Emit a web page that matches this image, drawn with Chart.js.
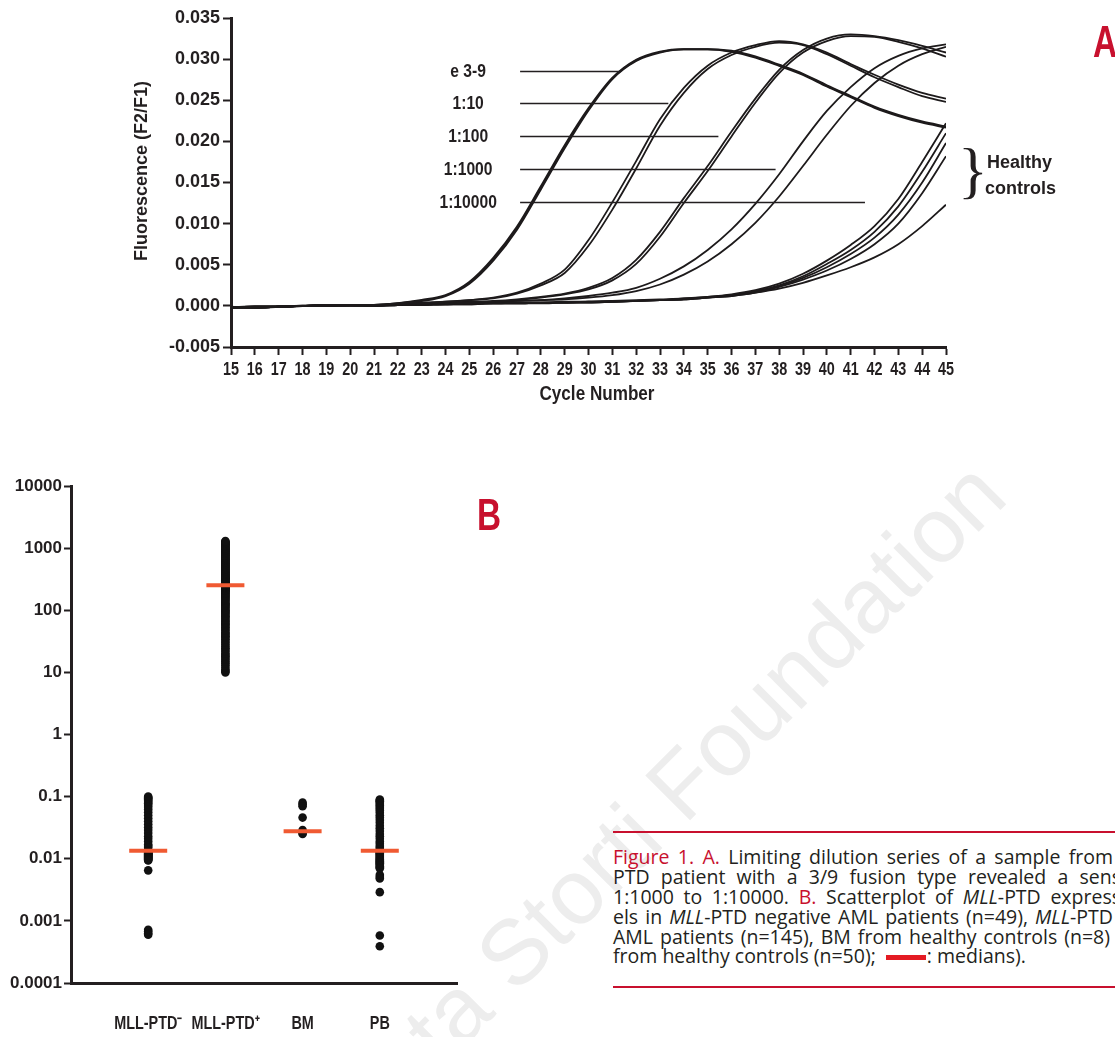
<!DOCTYPE html>
<html><head><meta charset="utf-8">
<script src="https://cdn.jsdelivr.net/npm/chart.js@4.4.0/dist/chart.umd.min.js"></script>
<style>
html,body{margin:0;padding:0;background:#fff;}
body{width:1115px;height:1037px;overflow:hidden;position:relative;font-family:"Liberation Sans",Arial,sans-serif;color:#231f20;}
#wm{position:absolute;left:232px;top:1168px;font-size:92px;line-height:92px;color:#ededed;white-space:nowrap;transform-origin:0 0;transform:rotate(-45deg);font-family:"Liberation Sans",Arial,sans-serif;}
canvas{position:absolute;}
#cA{left:0;top:0;}
#cB{left:0;top:440px;}
.panel{position:absolute;color:#c8102e;font-family:"Liberation Sans",Arial,sans-serif;font-weight:bold;font-size:45px;line-height:45px;transform-origin:0 0;transform:scaleX(0.74);}
.hc{position:absolute;font-weight:bold;font-size:18px;line-height:18px;white-space:nowrap;}
#brace{position:absolute;left:958px;top:139px;font-family:"Liberation Serif",serif;font-size:62px;line-height:62px;}
.rule{position:absolute;left:613px;width:502px;height:2px;background:#c8102e;}
.cap{position:absolute;left:613px;font-family:"Open Sans","Liberation Sans",sans-serif;font-weight:500;font-size:19.5px;line-height:20px;height:21px;white-space:nowrap;text-align:justify;text-align-last:justify;color:#231f20;}
.cap .r{color:#c8102e;}
.cap6{text-align:left;text-align-last:left;}
.bar{display:inline-block;width:40px;height:5px;background:#e41b23;vertical-align:middle;margin:0 1px 0 5px;}
</style></head><body>
<div id="wm">Ferrata Storti Foundation</div>
<canvas id="cA" width="1115" height="410"></canvas>
<canvas id="cB" width="480" height="597"></canvas>
<div class="panel" style="left:1093px;top:19px;">A</div>
<div class="panel" style="left:477px;top:492px;">B</div>
<div id="brace">}</div>
<div class="hc" style="left:987px;top:153px;">Healthy</div>
<div class="hc" style="left:985px;top:179px;">controls</div>
<div class="rule" style="top:831px;"></div>
<div class="rule" style="top:986px;"></div>
<div class="cap" style="top:847px;width:500px;"><span class="r">Figure 1. A.</span> Limiting dilution series of a sample from</div>
<div class="cap" style="top:867px;width:508px;">PTD patient with a 3/9 fusion type revealed a sens</div>
<div class="cap" style="top:887px;width:508px;">1:1000 to 1:10000. <span class="r">B.</span> Scatterplot of <i>MLL</i>-PTD express</div>
<div class="cap" style="top:907px;width:500px;">els in <i>MLL</i>-PTD negative AML patients (n=49), <i>MLL</i>-PTD</div>
<div class="cap" style="top:927px;width:497px;">AML patients (n=145), BM from healthy controls (n=8)</div>
<div class="cap cap6" style="top:946px;width:502px;">from healthy controls (n=50); <span class="bar"></span>: medians).</div>
<script>
// ---------- Panel A data ----------
const cycles = [15,16,17,18,19,20,21,22,23,24,25,26,27,28,29,30,31,32,33,34,35,36,37,38,39,40,41,42,43,44,45];
const yTicksA = [-0.005,0,0.005,0.01,0.015,0.02,0.025,0.03,0.035];
const yTickLabelsA = ["-0.005","0.000","0.005","0.010","0.015","0.020","0.025","0.030","0.035"];
const e39A = [-0.0002,-0.0002,-0.0001,0.0000,0.0001,0.0001,0.0001,0.0003,0.0006,0.0012,0.0027,0.0055,0.0093,0.0142,0.0192,0.0238,0.0276,0.0298,0.0308,0.0312,0.0312,0.0310,0.0303,0.0293,0.0282,0.0268,0.0255,0.0242,0.0232,0.0224,0.0218];
const e39B = [-0.0002,-0.0001,-0.0001,0.0000,0.0000,0.0001,0.0001,0.0003,0.0007,0.0013,0.0029,0.0058,0.0096,0.0145,0.0195,0.0240,0.0277,0.0299,0.0309,0.0312,0.0312,0.0309,0.0302,0.0292,0.0281,0.0267,0.0254,0.0241,0.0231,0.0223,0.0217];
const d10A = [-0.0002,-0.0002,-0.0001,0.0000,0.0001,0.0001,0.0001,0.0002,0.0004,0.0005,0.0007,0.0010,0.0016,0.0027,0.0044,0.0080,0.0126,0.0176,0.0227,0.0265,0.0292,0.0308,0.0317,0.0322,0.0318,0.0308,0.0294,0.0281,0.0269,0.0259,0.0252];
const d10B = [-0.0002,-0.0001,-0.0001,0.0000,0.0000,0.0001,0.0001,0.0002,0.0003,0.0005,0.0007,0.0009,0.0015,0.0025,0.0040,0.0073,0.0117,0.0167,0.0219,0.0259,0.0288,0.0305,0.0315,0.0320,0.0317,0.0306,0.0292,0.0278,0.0266,0.0255,0.0248];
const d100A = [-0.0002,-0.0002,-0.0001,0.0000,0.0001,0.0001,0.0001,0.0002,0.0003,0.0004,0.0005,0.0006,0.0008,0.0011,0.0015,0.0022,0.0034,0.0056,0.0090,0.0131,0.0170,0.0212,0.0252,0.0287,0.0311,0.0325,0.0330,0.0328,0.0323,0.0316,0.0308];
const d100B = [-0.0002,-0.0001,-0.0001,0.0000,0.0000,0.0001,0.0001,0.0002,0.0003,0.0004,0.0004,0.0005,0.0007,0.0010,0.0014,0.0020,0.0031,0.0051,0.0084,0.0125,0.0164,0.0206,0.0247,0.0283,0.0308,0.0322,0.0328,0.0327,0.0321,0.0313,0.0303];
const d1000A = [-0.0002,-0.0002,-0.0001,0.0000,0.0001,0.0001,0.0001,0.0002,0.0003,0.0004,0.0004,0.0005,0.0006,0.0007,0.0009,0.0012,0.0016,0.0022,0.0033,0.0048,0.0068,0.0093,0.0124,0.0160,0.0200,0.0237,0.0266,0.0289,0.0304,0.0313,0.0318];
const d1000B = [-0.0002,-0.0001,-0.0001,0.0000,0.0000,0.0001,0.0001,0.0002,0.0003,0.0003,0.0004,0.0005,0.0006,0.0007,0.0008,0.0010,0.0013,0.0018,0.0026,0.0038,0.0054,0.0075,0.0101,0.0133,0.0170,0.0208,0.0243,0.0271,0.0292,0.0306,0.0315];
const hc1 = [-0.0002,-0.0002,-0.0001,0.0000,0.0001,0.0001,0.0000,0.0002,0.0002,0.0003,0.0003,0.0004,0.0004,0.0004,0.0005,0.0005,0.0006,0.0007,0.0008,0.0009,0.0011,0.0014,0.0019,0.0027,0.0039,0.0055,0.0074,0.0097,0.0130,0.0175,0.0222];
const hc2 = [-0.0002,-0.0001,-0.0001,0.0000,0.0000,0.0001,0.0000,0.0001,0.0002,0.0002,0.0003,0.0003,0.0004,0.0004,0.0004,0.0005,0.0006,0.0006,0.0007,0.0009,0.0011,0.0013,0.0018,0.0025,0.0036,0.0051,0.0068,0.0090,0.0121,0.0163,0.0210];
const hc3 = [-0.0002,-0.0002,-0.0001,0.0000,0.0001,0.0000,0.0000,0.0001,0.0002,0.0002,0.0003,0.0003,0.0003,0.0004,0.0004,0.0005,0.0005,0.0006,0.0007,0.0008,0.0010,0.0013,0.0017,0.0024,0.0034,0.0047,0.0063,0.0083,0.0111,0.0150,0.0198];
const hc4 = [-0.0001,-0.0002,-0.0001,0.0000,0.0000,0.0001,0.0000,0.0001,0.0001,0.0002,0.0002,0.0003,0.0003,0.0004,0.0004,0.0004,0.0005,0.0006,0.0007,0.0008,0.0010,0.0012,0.0016,0.0023,0.0032,0.0043,0.0057,0.0075,0.0100,0.0137,0.0182];
const hc5 = [-0.0002,-0.0001,-0.0001,0.0000,0.0000,0.0000,0.0000,0.0001,0.0001,0.0002,0.0002,0.0003,0.0003,0.0003,0.0004,0.0004,0.0005,0.0006,0.0007,0.0008,0.0010,0.0012,0.0016,0.0021,0.0028,0.0037,0.0047,0.0059,0.0075,0.0097,0.0123];
const leaderLabels = ["e 3-9","1:10","1:100","1:1000","1:10000"];
const leaderLevels = [0.0285,0.0247,0.0207,0.0166,0.0126];
const leaderEnds = [31.3,33.35,35.45,37.85,41.6];

// ---------- Panel B data ----------
const categoriesB = ["MLL-PTD\u207B","MLL-PTD\u207A","BM","PB"];
const ptdNeg = [0.1,0.097,0.094,0.09,0.086,0.082,0.078,0.073,0.068,0.062,0.056,0.05,0.045,0.04,0.036,0.032,0.029,0.026,0.023,0.021,0.019,0.017,0.016,0.015,0.0135,0.0131,0.0128,0.0126,0.0124,0.0122,0.012,0.0118,0.0116,0.0114,0.0112,0.011,0.0108,0.0106,0.0104,0.0102,0.01,0.0098,0.0096,0.0094,0.0065,0.00072,0.00068,0.00063,0.0006];
const ptdPos = [10,10.5,11,12,13,14,15,16,17,18,19,20,21.5,23,24.5,26,28,30,32,34,36,38,40,42,44,47,50,53,56,59,62,65,68,72,76,80,84,88,92,96,100,105,110,115,120,125,130,136,142,148,154,160,166,172,178,184,190,196,202,207,212,217,222,226,230,234,237,240,243,246,248,250,253,256,259,262,266,270,275,280,285,290,296,302,308,314,320,327,334,341,348,356,364,372,380,390,400,410,420,430,440,452,464,476,488,500,514,528,542,556,570,585,600,616,632,648,664,680,698,716,734,752,770,790,810,830,850,870,892,914,936,958,980,1005,1030,1055,1080,1105,1130,1155,1180,1210,1240,1270,1300];
const bmHealthy = [0.08,0.075,0.07,0.046,0.029,0.027,0.026,0.025];
const pbHealthy = [0.09,0.087,0.084,0.08,0.076,0.072,0.068,0.064,0.06,0.055,0.05,0.046,0.042,0.038,0.034,0.031,0.028,0.025,0.023,0.021,0.019,0.0175,0.016,0.015,0.014,0.0132,0.0128,0.0124,0.012,0.0116,0.0112,0.0108,0.0104,0.01,0.0097,0.0094,0.0091,0.0088,0.0085,0.0082,0.0079,0.0076,0.0073,0.007,0.0055,0.0051,0.0048,0.0029,0.00058,0.00039];
const mediansB = [0.0135,253,0.0276,0.0135];
const yTicksB = [0.0001,0.001,0.01,0.1,1,10,100,1000,10000];
const yTickLabelsB = ["0.0001","0.001","0.01","0.1","1","10","100","1000","10000"];

const INK = '#231f20';
const SANS = '"Liberation Sans",Arial,sans-serif';
const CLEAR = 'rgba(0,0,0,0)';

// draws the x-tick labels of a chart in a condensed bold face, at the scale's own tick positions
function narrowTickLabels(chart, labels, yPix, size, squeeze){
  const {ctx, scales:{x}} = chart;
  ctx.save();
  ctx.fillStyle = INK;
  ctx.font = 'bold ' + size + 'px ' + SANS;
  ctx.textAlign = 'center'; ctx.textBaseline = 'middle';
  x.ticks.forEach((t,i)=>{
    ctx.save();
    ctx.translate(x.getPixelForValue(t.value), yPix);
    ctx.scale(squeeze, 1);
    ctx.fillText(labels[i], 0, 0);
    ctx.restore();
  });
  ctx.restore();
}

// ---------- Panel A ----------
const seriesA = [e39A,e39B,d10A,d10B,d100A,d100B,d1000A,d1000B,hc1,hc2,hc3,hc4,hc5];
const annotA = {
  id:'annotA',
  afterDraw(chart){
    const {ctx, scales:{x,y}} = chart;
    narrowTickLabels(chart, cycles.map(String), 370, 18, 0.8);
    ctx.save();
    ctx.fillStyle = INK; ctx.strokeStyle = INK;
    ctx.font = 'bold 18px ' + SANS;
    ctx.textAlign = 'center'; ctx.textBaseline = 'middle';
    ctx.save(); ctx.translate(597,395); ctx.scale(0.95,1.08); ctx.fillText('Cycle Number', 0, 0); ctx.restore();
    ctx.save(); ctx.translate(142,171); ctx.rotate(-Math.PI/2); ctx.scale(1,1.05);
    ctx.fillText('Fluorescence (F2/F1)', 0, 0); ctx.restore();
    ctx.lineWidth = 1.5;
    ctx.font = 'bold 17px ' + SANS;
    leaderLabels.forEach((t,i)=>{
      const py = Math.round(y.getPixelForValue(leaderLevels[i])) + 0.5;
      ctx.beginPath();
      ctx.moveTo(x.getPixelForValue(27.13), py);
      ctx.lineTo(x.getPixelForValue(leaderEnds[i]), py);
      ctx.stroke();
      ctx.save(); ctx.translate(x.getPixelForValue(24.95), py + 1); ctx.scale(0.92,1.05);
      ctx.fillText(t, 0, 0); ctx.restore();
    });
    ctx.restore();
  }
};
new Chart(document.getElementById('cA'), {
  type:'line',
  data:{ datasets: seriesA.map((s,i)=>({
    data: s.map((v,j)=>({x:cycles[j], y:v})),
    borderColor:'#1d1a1b', borderWidth: i<2 ? 2.2 : 1.8,
    pointRadius:0, cubicInterpolationMode:'monotone', fill:false
  }))},
  options:{
    responsive:false, animation:false, devicePixelRatio:1,
    layout:{padding:{left:127,right:169,top:18,bottom:0}},
    plugins:{legend:{display:false}, tooltip:{enabled:false}},
    scales:{
      x:{type:'linear', min:15, max:45,
        afterBuildTicks:s=>{ s.ticks = cycles.map(v=>({value:v})); },
        afterFit:s=>{ s.height = 63; },
        ticks:{autoSkip:false, maxRotation:0, minRotation:0, color:CLEAR,
          font:{family:SANS, weight:'bold', size:12}, callback:(v,i)=>String(cycles[i])},
        grid:{drawOnChartArea:false, drawTicks:true, tickLength:8, tickWidth:2, tickColor:INK},
        border:{display:true, width:3, color:INK}},
      y:{type:'linear', min:-0.005, max:0.035,
        afterBuildTicks:s=>{ s.ticks = yTicksA.map(v=>({value:v})); },
        afterFit:s=>{ s.width = 104; },
        ticks:{padding:3, color:INK, font:{family:SANS, weight:'bold', size:18}, callback:(v,i)=>yTickLabelsA[i]},
        grid:{drawOnChartArea:false, drawTicks:true, tickLength:8, tickWidth:2, tickColor:INK},
        border:{display:true, width:3, color:INK}}
    }
  },
  plugins:[annotA]
});

// ---------- Panel B ----------
const groupsB = [ptdNeg, ptdPos, bmHealthy, pbHealthy];
const dsB = groupsB.map((g,gi)=>({
  type:'scatter', order:2,
  data: g.map(v=>({x:gi+1, y:v})),
  pointRadius:4.3, pointBackgroundColor:'#111', pointBorderWidth:0, showLine:false
}));
dsB.unshift({
  type:'scatter', order:1,
  data: mediansB.map((m,i)=>({x:i+1, y:m})),
  pointStyle:'line', pointRadius:19, pointBorderWidth:4, pointBorderColor:'#f05a32', showLine:false
});
const annotB = {
  id:'annotB',
  afterDraw(chart){ narrowTickLabels(chart, categoriesB, 584, 18, 0.8); }
};
new Chart(document.getElementById('cB'), {
  type:'scatter',
  data:{datasets: dsB},
  options:{
    responsive:false, animation:false, devicePixelRatio:1,
    layout:{padding:{left:0,right:17,top:46,bottom:0}},
    plugins:{legend:{display:false}, tooltip:{enabled:false}},
    scales:{
      x:{type:'linear', min:0, max:5,
        afterBuildTicks:s=>{ s.ticks = categoriesB.map((c,i)=>({value:i+1})); },
        afterFit:s=>{ s.height = 54; },
        ticks:{autoSkip:false, maxRotation:0, color:CLEAR,
          font:{family:SANS, weight:'bold', size:12}, callback:(v,i)=>categoriesB[i]},
        grid:{drawOnChartArea:false, drawTicks:false},
        border:{display:true, width:3, color:INK}},
      y:{type:'logarithmic', min:0.0001, max:10000,
        afterBuildTicks:s=>{ s.ticks = yTicksB.map(v=>({value:v})); },
        afterFit:s=>{ s.width = 71; },
        ticks:{padding:2, color:INK, font:{family:SANS, weight:'bold', size:17}, callback:(v,i)=>yTickLabelsB[i]},
        grid:{drawOnChartArea:false, drawTicks:true, tickLength:7, tickWidth:2, tickColor:INK},
        border:{display:true, width:3, color:INK}}
    }
  },
  plugins:[annotB]
});
</script>
</body></html>
